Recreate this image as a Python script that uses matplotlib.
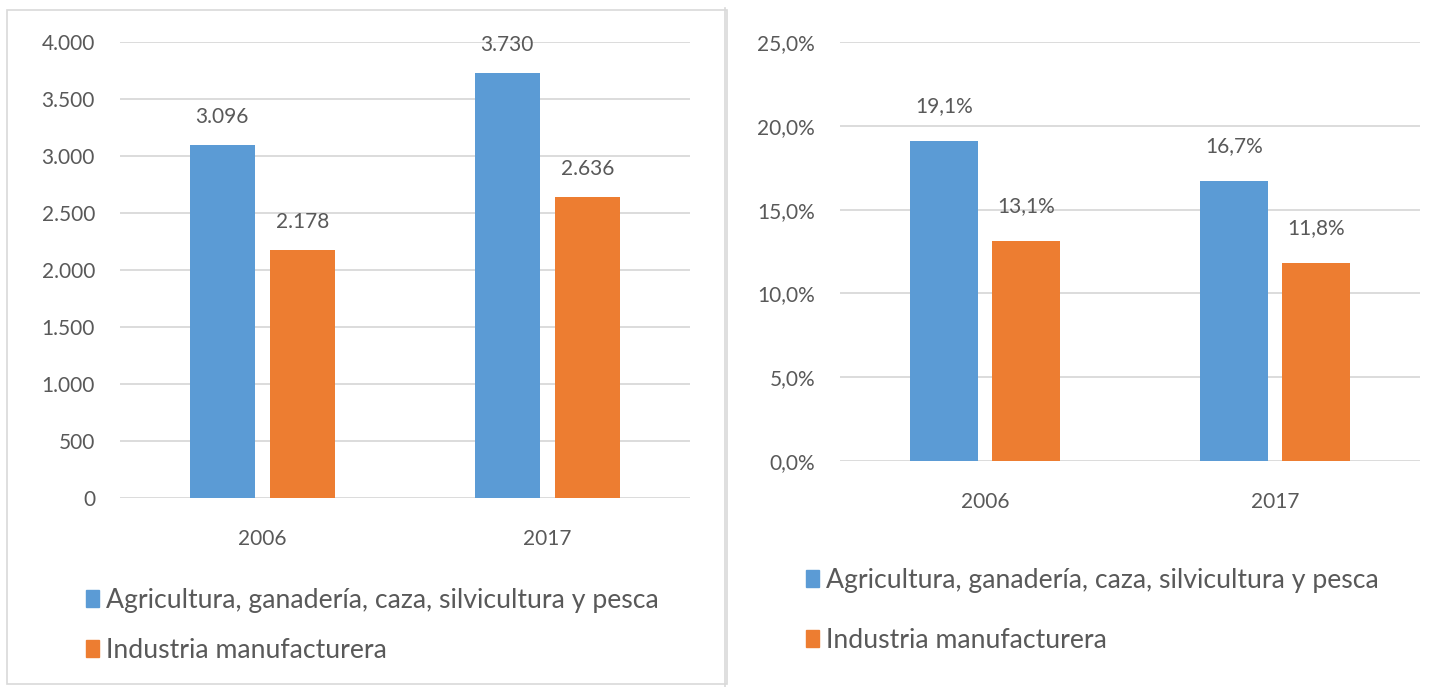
import matplotlib.pyplot as plt
from matplotlib.patches import Rectangle, Patch
from matplotlib.lines import Line2D

# datos
years = ['2006', '2017']
series = ['Agricultura, ganadería, caza, silvicultura y pesca', 'Industria manufacturera']
empleo_agro = [3096, 3730]
empleo_ind = [2178, 2636]
pct_agro = [19.1, 16.7]
pct_ind = [13.1, 11.8]

blue = '#5B9BD5'
orange = '#ED7D31'
txt = '#595959'
grid = '#D9D9D9'

plt.rcParams['font.family'] = ['Lato', 'DejaVu Sans']

W, H = 1448, 687
fig = plt.figure(figsize=(W / 100, H / 100), dpi=100)


def px_axes(x0, y0, x1, y1):
    return fig.add_axes([x0 / W, 1 - y1 / H, (x1 - x0) / W, (y1 - y0) / H])


def style(ax):
    for s in ax.spines.values():
        s.set_visible(False)
    ax.grid(True, axis='y', color=grid, linewidth=1.3)
    ax.set_axisbelow(True)
    ax.tick_params(length=0, labelsize=15, colors=txt, pad=18)
    ax.tick_params(axis='x', pad=22)
    ax.set_xlim(-0.5, 1.5)
    ax.set_xticks([0, 1])
    ax.set_xticklabels(years)


x = [0, 1]
off = 0.142

# panel izquierdo
ax1 = px_axes(120, 42, 690, 498)
b1 = ax1.bar([i - off for i in x], empleo_agro, 0.228, color=blue)
b2 = ax1.bar([i + off for i in x], empleo_ind, 0.228, color=orange)
ax1.set_ylim(0, 4000)
ax1.set_yticks(range(0, 4001, 500))
ax1.set_yticklabels([f'{v:,.0f}'.replace(',', '.') for v in range(0, 4001, 500)])
style(ax1)
for bars in (b1, b2):
    ax1.bar_label(bars, labels=[f'{v:,.0f}'.replace(',', '.') for v in bars.datavalues],
                  padding=13, fontsize=15, color=txt)

# panel derecho
ax2 = px_axes(840, 42, 1420, 461)
c1 = ax2.bar([i - off for i in x], pct_agro, 0.234, color=blue)
c2 = ax2.bar([i + off for i in x], pct_ind, 0.234, color=orange)
ax2.set_ylim(0, 25)
ax2.set_yticks(range(0, 26, 5))
ax2.set_yticklabels([f'{v:.1f}%'.replace('.', ',') for v in range(0, 26, 5)])
style(ax2)
for bars in (c1, c2):
    ax2.bar_label(bars, labels=[f'{v:.1f}%'.replace('.', ',') for v in bars.datavalues],
                  padding=18, fontsize=15, color=txt)

# leyendas
handles = [Patch(color=blue), Patch(color=orange)]
for bx, by, sp in [(62 / W, 1 - 564 / H, 0.95), (782 / W, 1 - 544 / H, 1.3)]:
    fig.legend(handles, series, loc='upper left', bbox_to_anchor=(bx, by),
               frameon=False, fontsize=19.2, labelcolor=txt, handlelength=0.5,
               handleheight=0.6, handletextpad=0.25, labelspacing=sp)

# bordes
fig.patches.append(Rectangle((7 / W, 1 - 684 / H), 720 / W, 674 / H,
                             transform=fig.transFigure, fill=False,
                             edgecolor='#D9D9D9', linewidth=1.2))
fig.lines.append(Line2D([725 / W, 725 / W], [0, 1 - 8 / H], transform=fig.transFigure,
                        color='#D9D9D9', linewidth=1.2))

fig.savefig('out.png', dpi=100)
